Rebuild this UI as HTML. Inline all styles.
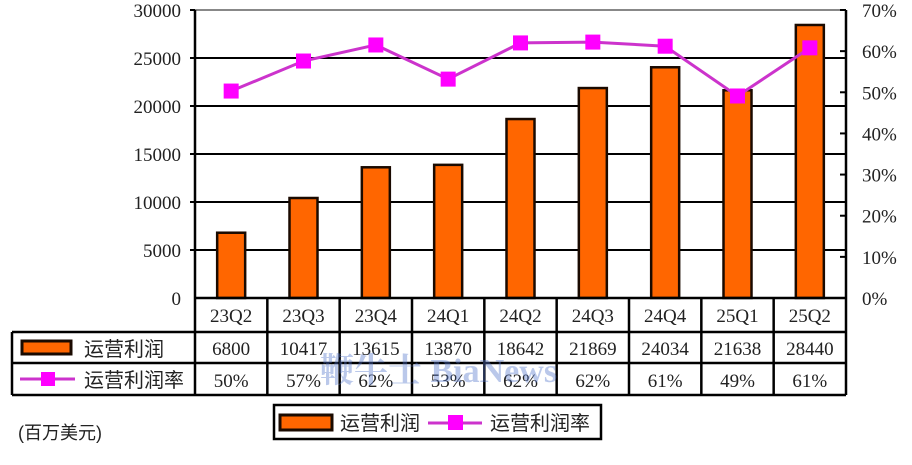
<!DOCTYPE html>
<html><head><meta charset="utf-8"><style>
body{margin:0;background:#fff;}
svg text{font-family:"Liberation Serif","Noto Serif CJK SC",serif;fill:#222;}
.cjk{font-family:"Liberation Sans","Noto Sans CJK SC",sans-serif !important;}
</style></head><body>
<svg id="c" width="912" height="460" viewBox="0 0 912 460" xmlns="http://www.w3.org/2000/svg"></svg>
<script>
const categories=["23Q2","23Q3","23Q4","24Q1","24Q2","24Q3","24Q4","25Q1","25Q2"];
const profit=[6800,10417,13615,13870,18642,21869,24034,21638,28440];
const margin=[50.3,57.6,61.5,53.2,62.0,62.2,61.2,49.1,60.8];
const marginLabels=["50%","57%","62%","53%","62%","62%","61%","49%","61%"];
const leftTicks=[0,5000,10000,15000,20000,25000,30000];
const rightTicks=[0,10,20,30,40,50,60,70];
const NS="http://www.w3.org/2000/svg";
const svg=document.getElementById('c');
const L=195,R=846,T=10,B=298,cw=(R-L)/categories.length;
const yL=v=>B-(v/30000)*(B-T);
const yR=v=>B-(v/70)*(B-T);
const xC=i=>L+cw*(i+0.5);
function mk(tag,attrs,parent){const e=document.createElementNS(NS,tag);for(const k in attrs)e.setAttribute(k,attrs[k]);(parent||svg).appendChild(e);return e;}
function txt(s,x,y,anchor,size,cls){const t=mk('text',{x:x,y:y,'text-anchor':anchor,'font-size':size});if(cls)t.setAttribute('class',cls);t.textContent=s;return t;}
leftTicks.forEach(v=>{if(v===0)return;
 const g=mk('line',{x1:L,x2:R,y1:yL(v),y2:yL(v),stroke:v===30000?'#888':'#000','stroke-width':2});
 
 const t=txt(String(v),L-14,yL(v)+7,'end',19);
 
 mk('line',{x1:L-5,x2:L,y1:yL(v),y2:yL(v),stroke:'#000','stroke-width':2});
});
{const t=txt("0",L-14,B+7,'end',19);}
rightTicks.forEach(v=>{
 const t=txt(v+"%",R+16,yR(v)+7,'start',19);
 
 mk('line',{x1:R-6,x2:R,y1:yR(v),y2:yR(v),stroke:'#000','stroke-width':2});
});
profit.forEach((v,i)=>{
 const r=mk('rect',{x:xC(i)-14,y:yL(v),width:28,height:B-yL(v),fill:'#ff6600',stroke:'#1a0a00','stroke-width':2.5});
 
});
mk('line',{x1:L,x2:L,y1:T,y2:B,stroke:'#000','stroke-width':2.5});
mk('line',{x1:R,x2:R,y1:T,y2:B,stroke:'#000','stroke-width':2.5});
mk('line',{x1:L,x2:R,y1:B,y2:B,stroke:'#000','stroke-width':2.5});
const pl=mk('polyline',{points:margin.map((v,i)=>xC(i)+','+yR(v)).join(' '),fill:'none',stroke:'#cc33cc','stroke-width':3});

margin.forEach((v,i)=>{
 const m=mk('rect',{x:xC(i)-7.5,y:yR(v)-7.5,width:15,height:15,fill:'#ff00ff'});
 
});
const TL=12;
mk('line',{x1:TL,x2:R,y1:332,y2:332,stroke:'#000','stroke-width':2.5});
mk('line',{x1:TL,x2:R,y1:363,y2:363,stroke:'#000','stroke-width':2.5});
mk('line',{x1:TL,x2:R,y1:395,y2:395,stroke:'#000','stroke-width':2.5});
mk('line',{x1:TL,x2:TL,y1:332,y2:395,stroke:'#000','stroke-width':2.5});
mk('line',{x1:L,x2:L,y1:298,y2:395,stroke:'#000','stroke-width':2.5});
for(let i=1;i<=categories.length;i++){mk('line',{x1:L+cw*i,x2:L+cw*i,y1:298,y2:395,stroke:'#000','stroke-width':2.5});}
categories.forEach((c,i)=>{
 let t=txt(c,xC(i),322,'middle',19);
 t=txt(String(profit[i]),xC(i),355,'middle',19);
 t=txt(marginLabels[i],xC(i),387,'middle',19);
});
mk('rect',{x:22,y:341,width:49,height:13,fill:'#ff6600',stroke:'#1a0a00','stroke-width':3});
txt("运营利润",84,356,'start',20,'cjk');
mk('line',{x1:20,x2:75,y1:379,y2:379,stroke:'#cc33cc','stroke-width':3});
mk('rect',{x:41,y:372,width:14,height:14,fill:'#ff00ff'});
txt("运营利润率",84,387,'start',20,'cjk');
const lg=mk('rect',{x:274,y:405,width:327,height:34,fill:'#fff',stroke:'#000','stroke-width':2.5});

mk('rect',{x:280,y:415,width:52,height:15,fill:'#ff6600',stroke:'#1a0a00','stroke-width':3});
txt("运营利润",340,430,'start',20,'cjk');
mk('line',{x1:428,x2:482,y1:423,y2:423,stroke:'#cc33cc','stroke-width':3});
mk('rect',{x:448,y:415,width:15,height:15,fill:'#ff00ff'});
txt("运营利润率",490,430,'start',20,'cjk');
txt("(百万美元)",18,439,'start',18,'cjk');
const w=txt("鞭牛士 BiaNews",320,382,'start',34);w.setAttribute('style','fill:#5577cc;opacity:0.4;font-weight:bold');

</script>
</body></html>
